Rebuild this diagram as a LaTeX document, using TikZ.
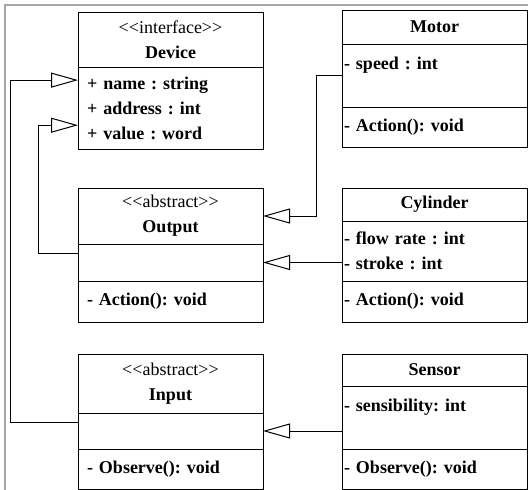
\documentclass[tikz,border=0pt]{standalone}
\usepackage{fontspec}
\setmainfont{Liberation Serif}
\usetikzlibrary{positioning,calc,arrows.meta}
\newcommand{\stereo}[1]{<\kern0pt<#1>\kern0pt>}

\begin{document}
\begin{tikzpicture}[x=1pt, y=-1pt, node distance=0pt]
  \tikzstyle{cls} = [draw, line width=1pt, outer sep=0pt, inner ysep=0pt, font=\fontsize{18}{25}\selectfont\bfseries\frenchspacing]
  \tikzstyle{head} = [cls, minimum width=185pt, align=center]
  \tikzstyle{lpart} = [cls, inner xsep=9pt, text width=167pt, align=left]
  \tikzstyle{rpart} = [cls, inner xsep=2pt, text width=181pt, align=left]
  \tikzstyle{inherit} = [line width=1pt, -{Triangle[open, length=27pt, width=15pt]}]

  \useasboundingbox (0,0) rectangle (528,490);
  \draw [gray!70, line width=1.2pt] (5,490) -- (5,5) -- (528,5);

  % left column
  \node [head, minimum height=55pt, anchor=north west] (dhead) at (78,12) {{\mdseries\stereo{interface}}\\Device};
  \node [lpart, minimum height=82pt, below = of dhead] (dattr) {+ name : string\\+ address : int\\+ value : word};

  \node [head, minimum height=56pt, anchor=north west] (ohead) at (78,188) {{\mdseries\stereo{abstract}}\\Output};
  \node [lpart, minimum height=37pt, below = of ohead] (oattr) {};
  \node [lpart, minimum height=41pt, below = of oattr] (ometh) {- Action(): void};

  \node [head, minimum height=59pt, anchor=north west] (ihead) at (78,354) {{\mdseries\stereo{abstract}}\\Input};
  \node [lpart, minimum height=36pt, below = of ihead] (iattr) {};
  \node [lpart, minimum height=40pt, below = of iattr] (imeth) {- Observe(): void};

  % right column
  \node [head, minimum height=34pt, anchor=north west] (mhead) at (342,10) {Motor};
  \node [rpart, minimum height=63pt, below = of mhead] (mattr) {- speed : int\\\mbox{}};
  \node [rpart, minimum height=40pt, below = of mattr] (mmeth) {- Action(): void};

  \node [head, minimum height=33pt, anchor=north west] (chead) at (342,188) {Cylinder};
  \node [rpart, minimum height=60pt, below = of chead] (cattr) {- flow rate : int\\- stroke : int};
  \node [rpart, minimum height=41pt, below = of cattr] (cmeth) {- Action(): void};

  \node [head, minimum height=32pt, anchor=north west] (shead) at (342,354) {Sensor};
  \node [rpart, minimum height=63pt, below = of shead] (sattr) {- sensibility: int\\\mbox{}};
  \node [rpart, minimum height=40pt, below = of sattr] (smeth) {- Observe(): void};

  \draw [inherit] (mattr.west) -- ++(-26,0) |- (ohead.east);
  \draw [inherit] (cattr.west |- oattr.east) -- (oattr.east);
  \draw [inherit] (sattr.west |- iattr.east) -- (iattr.east);
  \draw [inherit] ($(oattr.north west)!0.25!(oattr.south west)$) -- ++(-40,0) |- ($(dattr.north west)!0.71!(dattr.south west)$);
  \draw [inherit] ($(iattr.north west)!0.25!(iattr.south west)$) -- ++(-68,0) |- ($(dattr.north west)!0.16!(dattr.south west)$);
\end{tikzpicture}
\end{document}
